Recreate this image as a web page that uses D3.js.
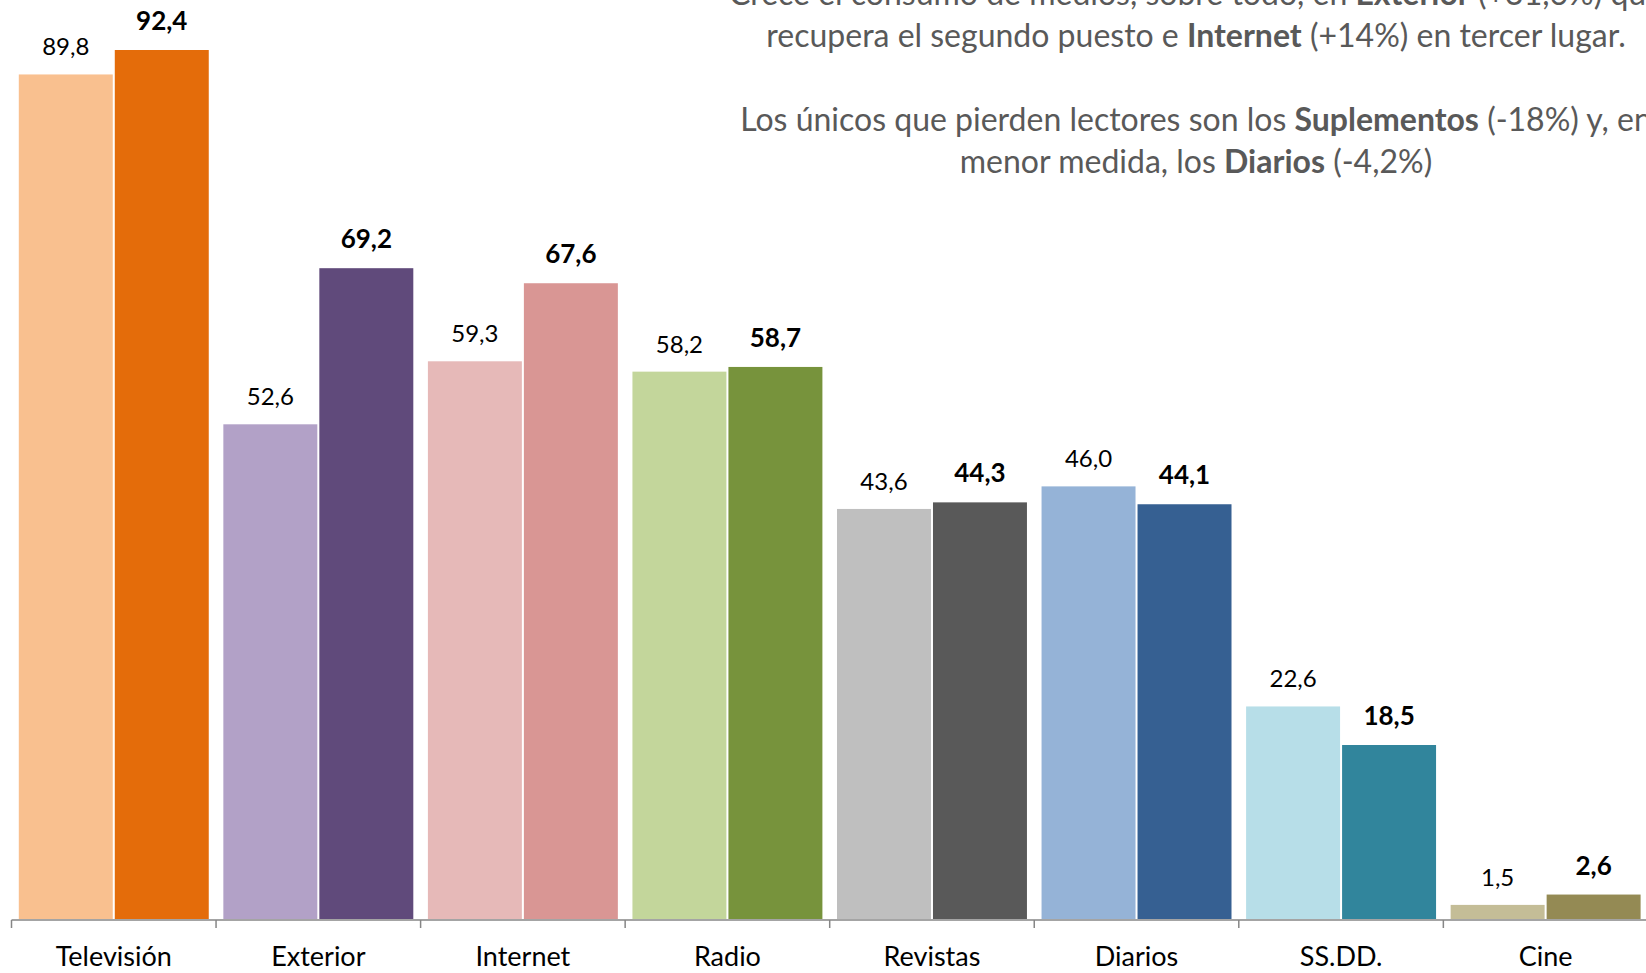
<html>
<head>
<meta charset="utf-8">
<script src="https://d3js.org/d3.v7.min.js"></script>
<style>
body { margin: 0; background: #fff; }
text { font-family: Lato, "Open Sans", sans-serif; }
</style>
</head>
<body>
<svg id="main_vis" width="1646" height="973"></svg>
<script>

// data
var categories = ["Televisión", "Exterior", "Internet", "Radio", "Revistas", "Diarios", "SS.DD.", "Cine"];
var series = ["anterior", "actual"];
var valuesPrev = [89.8, 52.6, 59.3, 58.2, 43.6, 46.0, 22.6, 1.5];
var valuesCurr = [92.4, 69.2, 67.6, 58.7, 44.3, 44.1, 18.5, 2.6];
var colorsPrev = ["#F9C08F", "#B2A1C7", "#E6B9B8", "#C3D69B", "#BFBFBF", "#95B3D7", "#B7DEE8", "#C4BD97"];
var colorsCurr = ["#E46C0A", "#604A7B", "#D99694", "#77933C", "#595959", "#366092", "#31859C", "#948A54"];

// note text, one array per line, [text, bold]
var noteLines = [
  [["Crece el consumo de medios, sobre todo, en ", false], ["Exterior", true], [" (+31,6%) que", false]],
  [["recupera el segundo puesto e ", false], ["Internet", true], [" (+14%) en tercer lugar.", false]],
  [],
  [["Los únicos que pierden lectores son los ", false], ["Suplementos", true], [" (-18%) y, en", false]],
  [["menor medida, los ", false], ["Diarios", true], [" (-4,2%)", false]]
];

var svg = d3.select("#main_vis");

var baseY = 919;

// X scales
var x = d3.scaleBand()
  .domain(categories)
  .range([11.5, 11.5 + 8 * 204.55])
  .padding(0);

var xInner = d3.scaleBand()
  .domain(series)
  .range([0, x.bandwidth()])
  .paddingInner(0.021)
  .paddingOuter(0.076);

// Y scale
var y = d3.scaleLinear()
  .domain([0, 92.4])
  .range([baseY, 50]);

var rows = categories.map(function(c, i) {
  return { cat: c, prev: valuesPrev[i], curr: valuesCurr[i], cPrev: colorsPrev[i], cCurr: colorsCurr[i] };
});

var groups = svg.selectAll("g.cat")
  .data(rows)
  .enter().append("g")
  .attr("class", "cat")
  .attr("transform", function(d) { return "translate(" + x(d.cat) + ",0)"; });

// previous year bars
groups.append("rect")
  .attr("x", xInner("anterior"))
  .attr("width", xInner.bandwidth())
  .attr("y", function(d) { return y(d.prev); })
  .attr("height", function(d) { return baseY - y(d.prev); })
  .attr("fill", function(d) { return d.cPrev; });

// current year bars
groups.append("rect")
  .attr("x", xInner("actual"))
  .attr("width", xInner.bandwidth())
  .attr("y", function(d) { return y(d.curr); })
  .attr("height", function(d) { return baseY - y(d.curr); })
  .attr("fill", function(d) { return d.cCurr; });

var fmt = function(v) { return d3.format(".1f")(v).replace(".", ","); };

// value labels
groups.append("text")
  .attr("x", xInner("anterior") + xInner.bandwidth() / 2)
  .attr("y", function(d) { return y(d.prev) - 19; })
  .attr("text-anchor", "middle")
  .attr("font-size", "24px")
  .attr("fill", "#000")
  .text(function(d) { return fmt(d.prev); });

groups.append("text")
  .attr("x", xInner("actual") + xInner.bandwidth() / 2)
  .attr("y", function(d) { return y(d.curr) - 20; })
  .attr("text-anchor", "middle")
  .attr("font-size", "26px")
  .attr("font-weight", "bold")
  .attr("fill", "#000")
  .text(function(d) { return fmt(d.curr); });

// x axis line + ticks between categories
var axis = svg.append("g").attr("transform", "translate(0," + (baseY + 1) + ")");
axis.append("line")
  .attr("x1", x.range()[0]).attr("x2", x.range()[1])
  .attr("stroke", "#868686").attr("stroke-width", 1.5);
axis.selectAll("line.tick")
  .data(categories.concat(["_end"]))
  .enter().append("line")
  .attr("class", "tick")
  .attr("x1", function(d) { return d === "_end" ? x.range()[1] : x(d); })
  .attr("x2", function(d) { return d === "_end" ? x.range()[1] : x(d); })
  .attr("y1", 0).attr("y2", 8)
  .attr("stroke", "#868686").attr("stroke-width", 1.5);

axis.selectAll("text")
  .data(categories)
  .enter().append("text")
  .attr("x", function(d) { return x(d) + x.bandwidth() / 2; })
  .attr("y", 46)
  .attr("text-anchor", "middle")
  .attr("font-size", "27px")
  .attr("fill", "#000")
  .text(function(d) { return d; });

// note at top right
var note = svg.append("text")
  .attr("text-anchor", "middle")
  .attr("font-size", "32px")
  .attr("fill", "#595959");

noteLines.forEach(function(line, i) {
  var first = true;
  if (line.length === 0) return;
  line.forEach(function(part) {
    var t = note.append("tspan")
      .attr("font-weight", part[1] ? "bold" : "normal")
      .text(part[0]);
    if (first) {
      t.attr("x", 1196).attr("y", 5 + i * 42);
      first = false;
    }
  });
});

</script>
</body>
</html>
